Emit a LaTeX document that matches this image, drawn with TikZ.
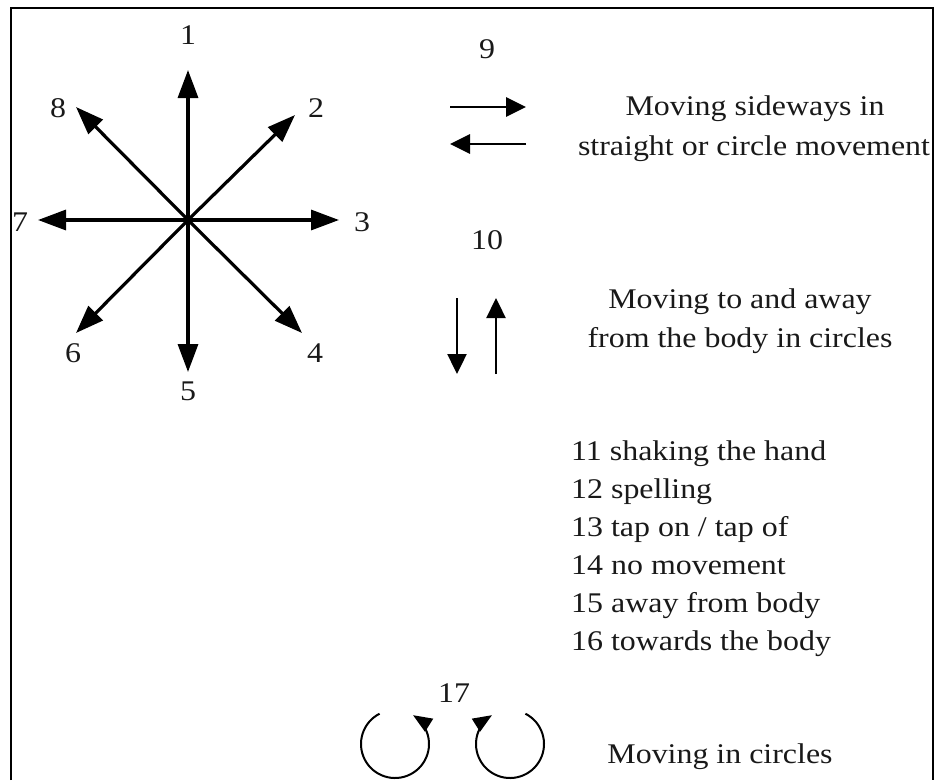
\documentclass[tikz,border=0pt]{standalone}
\usepackage{fontspec}
\setmainfont{Liberation Serif}[FakeStretch=1.12]
\usetikzlibrary{arrows.meta}
\begin{document}
\begin{tikzpicture}[x=1pt,y=-1pt,
  txt/.style={inner sep=0pt,font=\fontsize{28.5}{34}\selectfont,text=black!90},
  lbl/.style={txt,anchor=center},
  bigarr/.style={line width=3.2pt,-{Triangle[length=28pt,width=20pt]}},
  sidearr/.style={line width=2.8pt,-{Triangle[length=20pt,width=19pt]}},
  circarr/.style={line width=2pt,-{Triangle[length=19pt,width=15pt]}},
  frame/.style={line width=2.2pt}]
\useasboundingbox (0,0) rectangle (936,780);
\draw[frame] (11,780) -- (11,8) -- (933,8) -- (933,780);

% star
\coordinate (c) at (188,220);
\coordinate (t1) at (188,70);
\coordinate (t2) at (295,115);
\coordinate (t3) at (339,220);
\coordinate (t4) at (302,333);
\coordinate (t5) at (188,372);
\coordinate (t6) at (76,333);
\coordinate (t7) at (38,220);
\coordinate (t8) at (76,107);
\foreach \i in {1,...,8} {\draw[bigarr] (c) -- (t\i);}
\node[lbl] (n1) at (188,35) {1};
\node[lbl] (n2) at (316,108) {2};
\node[lbl] (n3) at (362,222) {3};
\node[lbl] (n4) at (315,353) {4};
\node[lbl] (n5) at (188,391) {5};
\node[lbl] (n6) at (73,353) {6};
\node[lbl] (n7) at (20,222) {7};
\node[lbl] (n8) at (58,108) {8};

% 9
\node[lbl] (n9) at (487,49) {9};
\coordinate (r1) at (450,107);
\coordinate (r2) at (526,107);
\coordinate (l1) at (526,144);
\coordinate (l2) at (450,144);
\draw[sidearr] (r1) -- (r2);
\draw[sidearr] (l1) -- (l2);
\node[txt,anchor=base] (s1) at (755,115) {Moving sideways in};
\node[txt,anchor=base] (s2) at (754,155) {straight or circle movement};

% 10
\node[lbl] (n10) at (487,240) {10};
\coordinate (d1) at (457,298);
\coordinate (d2) at (457,374);
\coordinate (u1) at (496,374);
\coordinate (u2) at (496,298);
\draw[sidearr,line width=2.4pt] (d1) -- (d2);
\draw[sidearr,line width=2.4pt] (u1) -- (u2);
\node[txt,anchor=base] (b1) at (740,308) {Moving to and away};
\node[txt,anchor=base] (b2) at (740,347) {from the body in circles};

% list
\node[txt,anchor=base west] (i11) at (571,460) {11 shaking the hand};
\node[txt,anchor=base west] (i12) at (571,498) {12 spelling};
\node[txt,anchor=base west] (i13) at (571,536) {13 tap on / tap of};
\node[txt,anchor=base west] (i14) at (571,574) {14 no movement};
\node[txt,anchor=base west] (i15) at (571,612) {15 away from body};
\node[txt,anchor=base west] (i16) at (571,650) {16 towards the body};

% 17
\node[txt,anchor=base] (n17) at (454,702) {17};
\coordinate (cl) at (395,744);
\coordinate (cr) at (510,744);
\draw[circarr] (cl) ++(-117:34) arc[start angle=-117, end angle=-418, radius=34];
\draw[circarr] (cr) ++(-63:34) arc[start angle=-63, end angle=238, radius=34];
\node[txt,anchor=base] (m17) at (720,763) {Moving in circles};
\end{tikzpicture}
\end{document}
